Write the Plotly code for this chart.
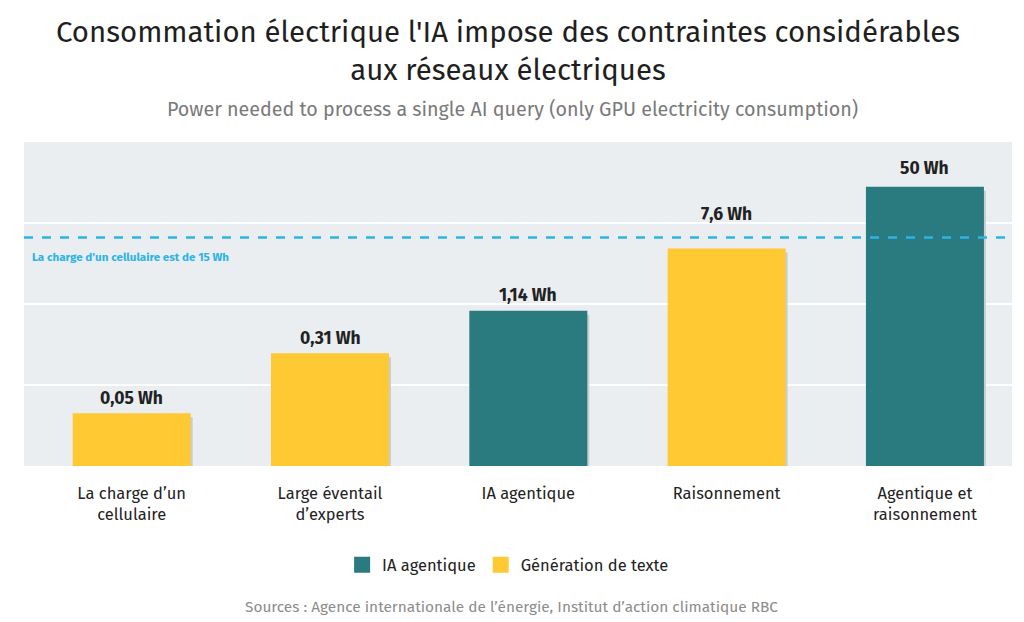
import math
import plotly.graph_objects as go

categories = ["La charge d’un<br>cellulaire", "Large éventail<br>d’experts", "IA agentique",
              "Raisonnement", "Agentique et<br>raisonnement"]
values = [0.05, 0.31, 1.14, 7.6, 50]
value_labels = ["0,05 Wh", "0,31 Wh", "1,14 Wh", "7,6 Wh", "50 Wh"]
series = ["Génération de texte", "Génération de texte", "IA agentique", "Génération de texte", "IA agentique"]
legend_order = ["IA agentique", "Génération de texte"]
phone_line = 10.6  # position of the dashed reference line as drawn
phone_label = "La charge d’un cellulaire est de 15 Wh"

colors = {"IA agentique": "#2a7b80", "Génération de texte": "#fec933"}
FONT = "Fira Sans, Noto Sans, sans-serif"
SHADOW_DROP = 0.885
label_lift = {"Raisonnement": 19, "Agentique et<br>raisonnement": 3}  # keep labels clear of the dashed line

fig = go.Figure()

# soft shadow behind each bar
fig.add_trace(go.Bar(x=categories, y=[v * SHADOW_DROP for v in values], width=0.595, offset=-0.2875,
                     marker_color="#c9cdd0", marker_line_width=0, showlegend=False, hoverinfo="skip"))

for s in legend_order:
    xs = [c for c, g in zip(categories, series) if g == s]
    ys = [v for v, g in zip(values, series) if g == s]
    fig.add_trace(go.Bar(x=xs, y=ys, width=0.595, marker_color=colors[s], marker_line_width=0,
                         showlegend=False))

# value labels above bars (annotation y is in log units on a log axis)
for c, v, t in zip(categories, values, value_labels):
    fig.add_annotation(x=c, y=math.log10(v), text=f"<b>{t}</b>", showarrow=False, yanchor="middle",
                       yshift=15 + label_lift.get(c, 0),
                       font=dict(family=FONT, size=17.5, color="#222222"))

# legend entries with larger squares
for s in legend_order:
    fig.add_trace(go.Scatter(x=[None], y=[None], mode="markers", name=s,
                             marker=dict(symbol="square", size=22, color=colors[s])))

fig.add_shape(type="line", xref="paper", x0=0, x1=1, y0=phone_line, y1=phone_line,
              line=dict(color="#2db4e6", width=2.5, dash="dash"))
fig.add_annotation(xref="paper", x=0.006, yref="paper", y=0.645, text=f"<b>{phone_label}</b>",
                   showarrow=False, xanchor="left", yanchor="middle",
                   font=dict(family=FONT, size=11.6, color="#2db4e6"))

fig.add_annotation(xref="paper", yref="paper", x=0.49, y=1.279, showarrow=False, yanchor="middle",
                   text="Consommation électrique l'IA impose des contraintes considérables<br>aux réseaux électriques",
                   font=dict(family=FONT, size=29.4, color="#1f1f1f"))
fig.add_annotation(xref="paper", yref="paper", x=0.494, y=1.099, showarrow=False, yanchor="middle",
                   text="Power needed to process a single AI query (only GPU electricity consumption)",
                   font=dict(family=FONT, size=19.7, color="#7a7a7a"))
fig.add_annotation(xref="paper", yref="paper", x=0.4934, y=-0.435, showarrow=False, yanchor="middle",
                   text="Sources : Agence internationale de l’énergie, Institut d’action climatique RBC",
                   font=dict(family=FONT, size=15.4, color="#8c8c8c"))

fig.update_layout(
    width=1024, height=622,
    margin=dict(l=24, r=12, t=142, b=156),
    paper_bgcolor="white", plot_bgcolor="#eaeef1",
    barmode="overlay", bargap=0.405,
    legend=dict(orientation="h", x=0.49, xanchor="center", y=-0.306, yanchor="middle",
                font=dict(family=FONT, size=16.5, color="#222222")),
    font=dict(family=FONT),
    showlegend=True,
)
fig.update_xaxes(categoryorder="array", categoryarray=categories, showgrid=False,
                 range=[-0.543, 4.439],
                 ticks="outside", ticklen=12, tickcolor="rgba(0,0,0,0)",
                 tickfont=dict(family=FONT, size=16.5, color="#222222"))
fig.update_yaxes(type="log", range=[-2, 2.29], showticklabels=False, zeroline=False,
                 tickvals=[10 ** -0.9275, 10 ** 0.145, 10 ** 1.2175],
                 gridcolor="white", gridwidth=2)

fig.write_html("out.html", config={"displayModeBar": False},
               post_script="document.body.style.margin='0';")
